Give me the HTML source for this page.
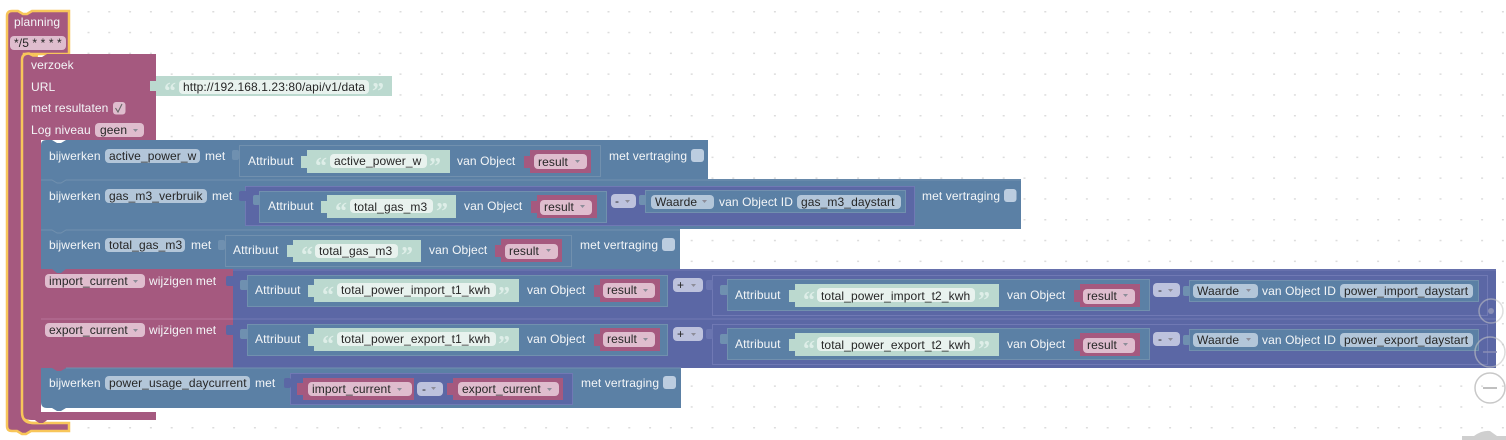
<!DOCTYPE html>
<html><head><meta charset="utf-8"><style>
html,body{margin:0;padding:0;background:#fff;width:1506px;height:440px;overflow:hidden}
svg{display:block}
text{font-family:"Liberation Sans",Arial,sans-serif;font-size:12px;letter-spacing:.1px}
.w{fill:#f4f6f8}.d{fill:#262626}
.q{font-family:"Liberation Serif",serif;font-size:24px;font-weight:bold;fill:#deeee8;letter-spacing:0}
.m{fill:#a5597f}.b{fill:#5b80a5}.p{fill:#5b67a5}.g{fill:#bbd9cf}
.fb{fill:#b3c6d9}.fm{fill:#dfbdce}.fp{fill:#bdc2dd}.fg{fill:#e8f2ee}
.ol{stroke:#7190ae;stroke-width:1;fill:#5b80a5}
.olp{stroke:#7079b4;stroke-width:1;fill:#5b67a5}
.a{fill:#8d8d99}
</style></head><body>
<svg width="1506" height="440" viewBox="0 0 1506 440" xmlns="http://www.w3.org/2000/svg">
<defs>
<pattern id="dots" x="4.8" y="11" width="20.8" height="20.8" patternUnits="userSpaceOnUse">
<rect x="-0.5" y="-0.5" width="2" height="2" fill="#dcdcdc"/><rect x="20.3" y="-0.5" width="1" height="2" fill="#dcdcdc"/>
</pattern>
</defs>
<rect width="1506" height="440" fill="#fff"/>
<rect x="80" width="1426" height="440" fill="url(#dots)"/>

<!-- planning -->
<path class="m" d="M7 16Q7 11 12 11H18L23 14H27L32 11H69V54H24V413Q24 423 34 423H69V431H31L26 434H22L17 431H12Q7 431 7 426Z" stroke="#f8c65a" stroke-width="2.5"/>
<text class="w" x="14" y="26">planning</text>
<rect class="fm" x="10" y="36" width="56" height="14" rx="4"/>
<text class="d" x="14" y="47">*/5 * * * *</text>

<!-- verzoek -->
<path class="m" d="M22 59Q22 54 27 54H33L38 57H42L47 54H156V140H41V412H156V420H47L43 423H39L35 420H32Q22 420 22 412Z"/>
<path d="M38 55.500H33L29 53.500Q22 53.500 22 60V412Q22 423 33 423H46" fill="none" stroke="#f8c65a" stroke-width="2.500"/>
<path class="m" d="M35 420H47L43 423H39Z"/>
<text class="w" x="31" y="69">verzoek</text>
<text class="w" x="31" y="91">URL</text>
<text class="w" x="31" y="112">met resultaten</text>
<rect class="fm" x="113" y="102" width="12.500" height="12.500" rx="3"/>
<path d="M115.500 108L118 112L122 104" fill="none" stroke="#666" stroke-width="1.100"/>
<text class="w" x="31" y="134">Log niveau</text>
<rect class="fm" x="95" y="123" width="49" height="14" rx="4"/>
<text class="d" x="100" y="134">geen</text>
<path class="a" d="M133 129h5l-2.500 3z"/>

<!-- url string -->
<path class="g" d="M156 76H392V96H156V91H150V81H156Z"/>
<text class="q" x="164" y="99">“</text>
<rect class="fg" x="179" y="80" width="190" height="14" rx="4"/>
<text class="d" x="183" y="91">http://192.168.1.23:80/api/v1/data</text>
<text class="q" x="372" y="99">”</text>

<!-- ROW 1 -->
<path class="b" d="M41 145Q41 140 46 140H52L57 143H61L66 140H708V179H41Z"/>
<text class="w" x="49" y="160">bijwerken</text>
<rect class="fb" x="105" y="149" width="95" height="14" rx="4"/>
<text class="d" x="109" y="160">active_power_w</text>
<text class="w" x="205" y="160">met</text>
<rect class="ol" x="239.500" y="145.500" width="361" height="31"/>
<rect x="232" y="150" width="7" height="10" rx="2" fill="#6f90b0"/>
<text class="w" x="248" y="165">Attribuut</text>
<path class="g" d="M307 150H450V173H307V168H301V156H307Z"/>
<text class="q" x="315" y="174">“</text>
<rect class="fg" x="330" y="154" width="97" height="14" rx="4"/>
<text class="d" x="334" y="165">active_power_w</text>
<text class="q" x="429" y="174">”</text>
<text class="w" x="457" y="165">van Object</text>
<path class="m" d="M530 150H591V173H530V168H524V156H530Z"/>
<rect class="fm" x="534" y="154" width="53" height="15" rx="4"/>
<text class="d" x="538" y="166">result</text>
<path class="a" d="M575 160h5l-2.500 3z"/>
<text class="w" x="609" y="160">met vertraging</text>
<rect x="691" y="149" width="13" height="13" rx="3" fill="#bccde0"/>

<!-- ROW 2 -->
<rect class="b" x="41" y="179" width="980" height="50"/>
<path d="M41 180H52L57 183H61L66 180H1021" stroke="#7190ae" fill="none"/>
<text class="w" x="49" y="200">bijwerken</text>
<rect class="fb" x="105" y="189" width="102" height="14" rx="4"/>
<text class="d" x="109" y="200">gas_m3_verbruik</text>
<text class="w" x="212" y="200">met</text>
<rect class="olp" x="245.500" y="186.500" width="669" height="39"/>
<rect x="239" y="191" width="8" height="10" rx="2" fill="#5b67a5"/>
<rect class="ol" x="259.500" y="191.500" width="347" height="31"/>
<rect x="253" y="195" width="7" height="10" rx="2" fill="#6f90b0"/>
<text class="w" x="268" y="210">Attribuut</text>
<path class="g" d="M327 195H456V218H327V213H321V201H327Z"/>
<text class="q" x="335" y="219">“</text>
<rect class="fg" x="350" y="199" width="83" height="14" rx="4"/>
<text class="d" x="354" y="211">total_gas_m3</text>
<text class="q" x="436" y="219">”</text>
<text class="w" x="464" y="210">van Object</text>
<path class="m" d="M537 195H597V218H537V213H531V201H537Z"/>
<rect class="fm" x="540" y="200" width="52" height="15" rx="4"/>
<text class="d" x="544" y="211">result</text>
<path class="a" d="M580 205h5l-2.500 3z"/>
<rect class="fp" x="611" y="194" width="25" height="14" rx="4"/>
<text class="d" x="615" y="205">-</text>
<path class="a" d="M625 200h5l-2.500 3z"/>
<rect class="ol" x="645.500" y="190.500" width="260" height="22"/>
<rect x="639" y="195" width="7" height="10" rx="2" fill="#6f90b0"/>
<rect class="fb" x="651" y="195" width="63" height="14" rx="4"/>
<text class="d" x="655" y="206">Waarde</text>
<path class="a" d="M702 200h5l-2.500 3z"/>
<text class="w" x="719" y="206">van Object ID</text>
<rect class="fb" x="797" y="195" width="104" height="14" rx="4"/>
<text class="d" x="801" y="206">gas_m3_daystart</text>
<text class="w" x="922" y="200">met vertraging</text>
<rect x="1004" y="189" width="12.500" height="13" rx="3" fill="#bccde0"/>

<!-- ROW 3 -->
<rect class="b" x="41" y="229" width="639" height="40"/>
<path d="M41 230H52L57 233H61L66 230H680" stroke="#7190ae" fill="none"/>
<text class="w" x="49" y="249">bijwerken</text>
<rect class="fb" x="105" y="238" width="80" height="14" rx="4"/>
<text class="d" x="109" y="249">total_gas_m3</text>
<text class="w" x="191" y="249">met</text>
<rect class="ol" x="225.500" y="235.500" width="346" height="31"/>
<rect x="218" y="240" width="7" height="10" rx="2" fill="#6f90b0"/>
<text class="w" x="233" y="254">Attribuut</text>
<path class="g" d="M293 240H421V262H293V257H287V245H293Z"/>
<text class="q" x="301" y="263">“</text>
<rect class="fg" x="315" y="244" width="83" height="14" rx="4"/>
<text class="d" x="319" y="255">total_gas_m3</text>
<text class="q" x="401" y="263">”</text>
<text class="w" x="429" y="254">van Object</text>
<path class="m" d="M501 239H562V262H501V257H495V245H501Z"/>
<rect class="fm" x="505" y="244" width="53" height="15" rx="4"/>
<text class="d" x="509" y="255">result</text>
<path class="a" d="M546 249h5l-2.500 3z"/>
<text class="w" x="580" y="249">met vertraging</text>
<rect x="662" y="238" width="13" height="13" rx="3" fill="#bccde0"/>

<!-- ROW 4 -->
<rect class="p" x="233" y="269" width="1263" height="50"/>
<rect class="m" x="41" y="269" width="192" height="50"/>
<path class="b" d="M52 269H66L61 273H57Z"/>
<path d="M233 270H1496" stroke="#7079b4"/>
<rect class="fm" x="45" y="274" width="100" height="14" rx="4"/>
<text class="d" x="49" y="285">import_current</text>
<path class="a" d="M133 280h5l-2.500 3z"/>
<text class="w" x="149" y="285">wijzigen met</text>
<rect x="226" y="276" width="8" height="10" rx="2" fill="#5b67a5"/>
<rect class="ol" x="247.500" y="275.500" width="420" height="31"/>
<rect x="240" y="280" width="8" height="10" rx="2" fill="#6f90b0"/>
<text class="w" x="255" y="294">Attribuut</text>
<path class="g" d="M314 279H519V302H314V297H308V285H314Z"/>
<text class="q" x="322" y="303">“</text>
<rect class="fg" x="337" y="283" width="159" height="14" rx="4"/>
<text class="d" x="341" y="294">total_power_import_t1_kwh</text>
<text class="q" x="498" y="303">”</text>
<text class="w" x="527" y="294">van Object</text>
<path class="m" d="M600 279H660V302H600V297H594V285H600Z"/>
<rect class="fm" x="603" y="283" width="52" height="15" rx="4"/>
<text class="d" x="607" y="294">result</text>
<path class="a" d="M643 289h5l-2.500 3z"/>
<rect class="fp" x="673" y="278" width="30" height="14" rx="4"/>
<text class="d" x="677" y="289">+</text>
<path class="a" d="M691 284h5l-2.500 3z"/>
<rect class="olp" x="712.500" y="275.500" width="775" height="40"/>
<rect x="706" y="280" width="7" height="10" rx="2" fill="#6a75b0"/>
<rect class="ol" x="727.500" y="279.500" width="422" height="31"/>
<rect x="720" y="285" width="8" height="10" rx="2" fill="#6f90b0"/>
<text class="w" x="735" y="299">Attribuut</text>
<path class="g" d="M795 284H999V307H795V302H789V290H795Z"/>
<text class="q" x="803" y="308">“</text>
<rect class="fg" x="817" y="288" width="158" height="14" rx="4"/>
<text class="d" x="821" y="300">total_power_import_t2_kwh</text>
<text class="q" x="978" y="308">”</text>
<text class="w" x="1007" y="299">van Object</text>
<path class="m" d="M1080 284H1140V307H1080V302H1074V290H1080Z"/>
<rect class="fm" x="1083" y="289" width="52" height="15" rx="4"/>
<text class="d" x="1087" y="300">result</text>
<path class="a" d="M1123 294h5l-2.500 3z"/>
<rect class="fp" x="1153" y="283" width="27" height="14" rx="4"/>
<text class="d" x="1158" y="294">-</text>
<path class="a" d="M1168 289h5l-2.500 3z"/>
<rect class="ol" x="1189.500" y="280.500" width="289" height="21"/>
<rect x="1183" y="286" width="7" height="10" rx="2" fill="#6f90b0"/>
<rect class="fb" x="1193" y="284" width="65" height="14" rx="4"/>
<text class="d" x="1197" y="295">Waarde</text>
<path class="a" d="M1246 289h5l-2.500 3z"/>
<text class="w" x="1262" y="295">van Object ID</text>
<rect class="fb" x="1340" y="284" width="133" height="14" rx="4"/>
<text class="d" x="1344" y="295">power_import_daystart</text>

<!-- ROW 5 -->
<rect class="p" x="233" y="319" width="1263" height="49"/>
<rect class="m" x="41" y="319" width="192" height="49"/>
<path d="M41 319H233" stroke="#b6739a"/>
<path d="M233 319H1496" stroke="#7079b4"/>
<rect class="fm" x="45" y="323" width="100" height="14" rx="4"/>
<text class="d" x="49" y="334">export_current</text>
<path class="a" d="M133 329h5l-2.500 3z"/>
<text class="w" x="149" y="334">wijzigen met</text>
<rect x="226" y="325" width="8" height="10" rx="2" fill="#5b67a5"/>
<rect class="ol" x="247.500" y="324.500" width="420" height="31"/>
<rect x="240" y="329" width="8" height="10" rx="2" fill="#6f90b0"/>
<text class="w" x="255" y="343">Attribuut</text>
<path class="g" d="M314 328H519V351H314V346H308V334H314Z"/>
<text class="q" x="322" y="352">“</text>
<rect class="fg" x="337" y="332" width="159" height="14" rx="4"/>
<text class="d" x="341" y="343">total_power_export_t1_kwh</text>
<text class="q" x="498" y="352">”</text>
<text class="w" x="527" y="343">van Object</text>
<path class="m" d="M600 328H660V351H600V346H594V334H600Z"/>
<rect class="fm" x="603" y="332" width="52" height="15" rx="4"/>
<text class="d" x="607" y="343">result</text>
<path class="a" d="M643 338h5l-2.500 3z"/>
<rect class="fp" x="673" y="327" width="30" height="14" rx="4"/>
<text class="d" x="677" y="338">+</text>
<path class="a" d="M691 333h5l-2.500 3z"/>
<rect class="olp" x="712.500" y="324.500" width="775" height="40"/>
<rect x="706" y="329" width="7" height="10" rx="2" fill="#6a75b0"/>
<rect class="ol" x="727.500" y="328.500" width="422" height="31"/>
<rect x="720" y="334" width="8" height="10" rx="2" fill="#6f90b0"/>
<text class="w" x="735" y="348">Attribuut</text>
<path class="g" d="M795 333H999V356H795V351H789V339H795Z"/>
<text class="q" x="803" y="357">“</text>
<rect class="fg" x="817" y="337" width="158" height="14" rx="4"/>
<text class="d" x="821" y="349">total_power_export_t2_kwh</text>
<text class="q" x="978" y="357">”</text>
<text class="w" x="1007" y="348">van Object</text>
<path class="m" d="M1080 333H1140V356H1080V351H1074V339H1080Z"/>
<rect class="fm" x="1083" y="338" width="52" height="15" rx="4"/>
<text class="d" x="1087" y="349">result</text>
<path class="a" d="M1123 343h5l-2.500 3z"/>
<rect class="fp" x="1153" y="332" width="27" height="14" rx="4"/>
<text class="d" x="1158" y="343">-</text>
<path class="a" d="M1168 338h5l-2.500 3z"/>
<rect class="ol" x="1189.500" y="329.500" width="289" height="21"/>
<rect x="1183" y="335" width="7" height="10" rx="2" fill="#6f90b0"/>
<rect class="fb" x="1193" y="333" width="65" height="14" rx="4"/>
<text class="d" x="1197" y="344">Waarde</text>
<path class="a" d="M1246 338h5l-2.500 3z"/>
<text class="w" x="1262" y="344">van Object ID</text>
<rect class="fb" x="1340" y="333" width="133" height="14" rx="4"/>
<text class="d" x="1344" y="344">power_export_daystart</text>

<!-- ROW 6 -->
<path class="b" d="M41 368H681V408H66L61 411H57L52 408H47Q41 408 41 402Z"/>
<path class="m" d="M52 368H66L61 371H57Z"/>
<path d="M66 368H681" stroke="#7190ae"/>
<text class="w" x="49" y="387">bijwerken</text>
<rect class="fb" x="105" y="376" width="145" height="14" rx="4"/>
<text class="d" x="109" y="387">power_usage_daycurrent</text>
<text class="w" x="255" y="387">met</text>
<rect class="olp" x="290.500" y="373.500" width="282" height="31"/>
<rect x="284" y="378" width="7" height="10" rx="2" fill="#5b67a5"/>
<path class="m" d="M303 378H414V400H303V395H297V383H303Z"/>
<rect class="fm" x="308" y="382" width="104" height="14" rx="4"/>
<text class="d" x="312" y="393">import_current</text>
<path class="a" d="M397 388h5l-2.500 3z"/>
<rect class="fp" x="417" y="382" width="26" height="14" rx="4"/>
<text class="d" x="422" y="393">-</text>
<path class="a" d="M431 387h5l-2.500 3z"/>
<path class="m" d="M453 378H563V400H453V395H447V383H453Z"/>
<rect class="fm" x="458" y="382" width="101" height="14" rx="4"/>
<text class="d" x="462" y="393">export_current</text>
<path class="a" d="M547 388h5l-2.500 3z"/>
<text class="w" x="581" y="387">met vertraging</text>
<rect x="663" y="376" width="13" height="13" rx="3" fill="#bccde0"/>

<!-- zoom controls -->
<circle cx="1491" cy="311" r="12" fill="none" stroke="#c4c4c4" stroke-opacity=".55" stroke-width="1.500"/>
<circle cx="1491" cy="311" r="3" fill="#8a8fb5"/>
<circle cx="1490" cy="352" r="15" fill="none" stroke="#c4c4c4" stroke-opacity=".6" stroke-width="1.500"/>
<path d="M1483 352H1497" stroke="#8a8fb5" stroke-width="1.500"/>
<circle cx="1490" cy="388" r="15" fill="none" stroke="#c8c8c8" stroke-width="1.500"/>
<path d="M1483 388H1497" stroke="#c0c0c0" stroke-width="2"/>
<path d="M1462 440V436H1474Q1482 430 1490 431L1497 436H1506V440Z" fill="#cfcfcf"/>
</svg>
</body></html>
